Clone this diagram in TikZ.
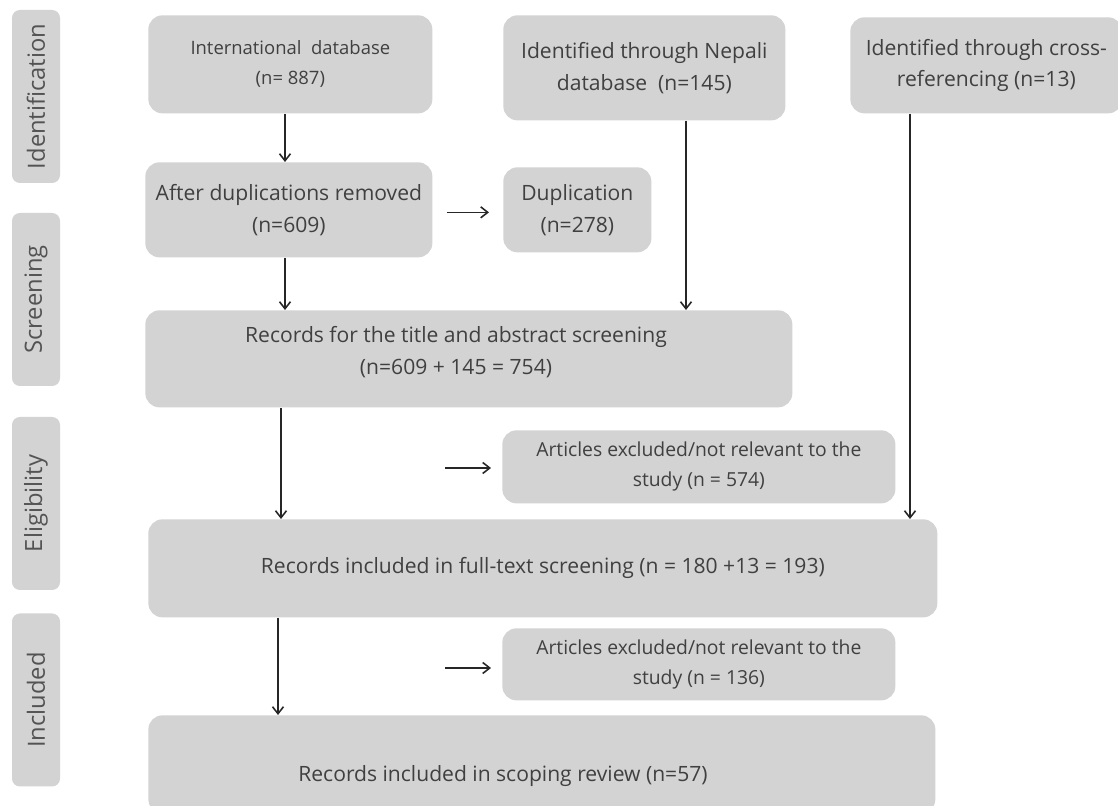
\documentclass[tikz,border=0pt]{standalone}
\usepackage{fontspec}
\setmainfont{Open Sans}
\usepackage{tikz}
\usetikzlibrary{positioning,arrows.meta,calc}
\definecolor{boxgray}{HTML}{D3D3D3}
\definecolor{inkgray}{HTML}{404040}
\tikzset{
  flowbox/.style={rounded corners=8pt, fill=boxgray, align=center, text=inkgray,
    font=\fontsize{12}{18}\selectfont, inner sep=2pt, anchor=north west},
  smallbox/.style={flowbox, font=\fontsize{10.5}{17}\selectfont},
  exclbox/.style={flowbox, font=\fontsize{11}{17}\selectfont},
  stagebox/.style={rounded corners=4.5pt, fill=boxgray, text=inkgray!90, rotate=90,
    minimum width=34.6mm, minimum height=9.6mm, inner sep=0pt,
    font=\fontsize{13.5}{16}\selectfont},
  flowtext/.style={text=inkgray, align=center, font=\fontsize{12}{18}\selectfont},
  flowarrow/.style={-{Straight Barb[length=1.4mm,width=2.2mm]}, line width=0.9pt, black!85},
}

\begin{document}
\begin{tikzpicture}
  \useasboundingbox (0,0) rectangle (22.36,-16.12);
  % stages
  \node[stagebox] (sident) at (0.72,-1.93) {Identification};
  \node[stagebox] (sscreen) at (0.72,-5.99) {Screening};
  \node[stagebox] (selig) at (0.72,-10.07) {Eligibility};
  \node[stagebox] (sincl) at (0.72,-14.00) {Included};
  % identification
  \node[smallbox, minimum width=56.8mm, minimum height=19.6mm] (intl) at (2.96,-0.30)
    {International\ \ database\\(n= 887)};
  \node[flowbox, minimum width=56.4mm, minimum height=21mm] (nepali) at (10.06,-0.30)
    {Identified through Nepali\\database\ \ (n=145)};
  \node[flowbox, minimum width=54.4mm, minimum height=19.2mm] (cross) at (17.00,-0.34)
    {Identified through cross-\\referencing (n=13)};
  % screening
  \node[flowbox, minimum width=57.4mm, minimum height=19mm] (dedup) at (2.90,-3.24)
    {After duplications removed\\(n=609)};
  \node[flowbox, minimum width=29.6mm, minimum height=17mm] (dup) at (10.06,-3.34)
    {Duplication\\(n=278)};
  \node[flowbox, minimum width=129.4mm, minimum height=19.4mm] (title) at (2.90,-6.20) {};
  \node[flowtext] (titletxt) at (9.12,-7.04)
    {Records for the title and abstract screening\\(n=609 + 145 = 754)};
  % eligibility
  \node[exclbox, minimum width=78.6mm, minimum height=14.6mm] (excl1) at (10.04,-8.60)
    {Articles excluded/not relevant to the\\study (n = 574)};
  \node[flowbox, minimum width=157.8mm, minimum height=19.6mm] (full) at (2.96,-10.38)
    {Records included in full-text screening (n = 180 +13 = 193)};
  % included
  \node[exclbox, minimum width=78.6mm, minimum height=14.4mm] (excl2) at (10.04,-12.56)
    {Articles excluded/not relevant to the\\study (n = 136)};
  \node[flowbox, minimum width=157.4mm, minimum height=19.6mm] (scope) at (2.96,-14.30) {};
  \node[flowtext, anchor=base] (scopetxt) at (10.06,-15.64)
    {Records included in scoping review (n=57)};
  % arrows
  \draw[flowarrow] ([xshift=27.4mm]intl.south west) -- ([xshift=27.4mm]intl.south west |- dedup.north);
  \draw[flowarrow] ([xshift=28mm]dedup.south west) -- ([xshift=28mm]dedup.south west |- title.north);
  \draw[flowarrow] ([xshift=36.6mm]nepali.south west) -- ([xshift=36.6mm]nepali.south west |- title.north);
  \draw[flowarrow] ([xshift=12mm]cross.south west) -- ([xshift=12mm]cross.south west |- full.north);
  \draw[flowarrow] ([xshift=27.2mm]title.south west) -- ([xshift=27.2mm]title.south west |- full.north);
  \draw[flowarrow] ([xshift=26mm]full.south west) -- ([xshift=26mm]full.south west |- scope.north);
  \draw[flowarrow, shorten <=2.8mm, shorten >=2.8mm] ([yshift=-0.5mm]dedup.east) -- ([yshift=-0.5mm]dedup.east -| dup.west);
  \coordinate (ex1in) at (8.90,-9.36);
  \coordinate (ex2in) at (8.90,-13.36);
  \draw[flowarrow, shorten >=2.2mm] (ex1in) -- (ex1in -| excl1.west);
  \draw[flowarrow, shorten >=2.2mm] (ex2in) -- (ex2in -| excl2.west);
\end{tikzpicture}
\end{document}
